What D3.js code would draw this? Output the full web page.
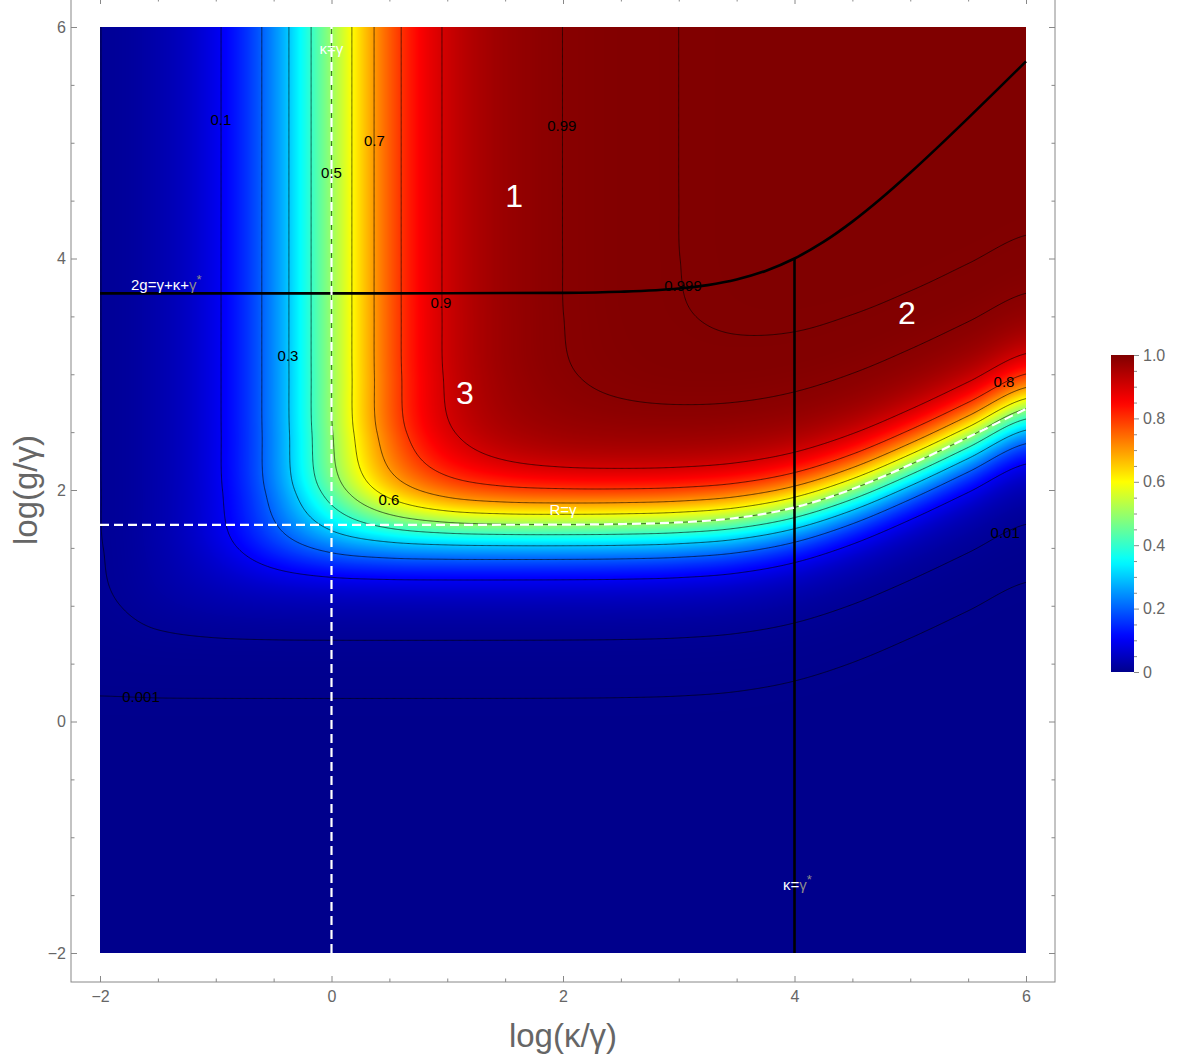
<!DOCTYPE html>
<html>
<head>
<meta charset="utf-8">
<script src="https://cdn.jsdelivr.net/npm/d3@7"></script>
<style>
  body { margin: 0; background: #fff; }
  svg { display: block; font-family: "Liberation Sans", Arial, sans-serif; }
</style>
</head>
<body>
<script>
// grid nodes, log(κ/γ) across and log(g/γ) up
var kappaLog = [-2, -1.5, -1, -0.5, 0, 0.5, 1, 1.5, 2, 2.5, 3, 3.5, 4, 4.5, 5, 5.5, 6];
var gLog = [-2, -1.5, -1, -0.5, 0, 0.5, 1, 1.5, 2, 2.5, 3, 3.5, 4, 4.5, 5, 5.5, 6];

// efficiency, one row per gLog value (bottom to top)
var efficiency = [
  [4.0e-8, 4.0e-8, 4.0e-8, 4.0e-8, 4.0e-8, 4.0e-8, 4.0e-8, 4.0e-8, 3.96e-8, 3.88e-8, 3.64e-8, 3.04e-8, 2.0e-8, 9.6e-9, 3.64e-9, 1.23e-9, 3.96e-10],
  [4.0e-7, 4.0e-7, 4.0e-7, 4.0e-7, 4.0e-7, 4.0e-7, 4.0e-7, 4.0e-7, 3.96e-7, 3.88e-7, 3.64e-7, 3.04e-7, 2.0e-7, 9.6e-8, 3.64e-8, 1.23e-8, 3.96e-9],
  [4.0e-6, 4.0e-6, 4.0e-6, 4.0e-6, 4.0e-6, 4.0e-6, 4.0e-6, 4.0e-6, 3.96e-6, 3.88e-6, 3.64e-6, 3.04e-6, 2.0e-6, 9.6e-7, 3.64e-7, 1.23e-7, 3.96e-8],
  [3.98e-5, 3.99e-5, 4.0e-5, 4.0e-5, 4.0e-5, 4.0e-5, 4.0e-5, 3.99e-5, 3.96e-5, 3.88e-5, 3.64e-5, 3.04e-5, 2.0e-5, 9.61e-6, 3.64e-6, 1.23e-6, 3.96e-7],
  [3.845e-4, 3.949e-4, 3.982e-4, 3.993e-4, 3.996e-4, 3.997e-4, 3.994e-4, 3.986e-4, 3.959e-4, 3.876e-4, 3.635e-4, 3.038e-4, 2.0e-4, 9.61e-5, 3.636e-5, 1.226e-5, 3.96e-6],
  [2.849e-3, 3.538e-3, 3.831e-3, 3.935e-3, 3.968e-3, 3.978e-3, 3.978e-3, 3.971e-3, 3.945e-3, 3.862e-3, 3.623e-3, 3.03e-3, 1.996e-3, 9.6e-4, 3.635e-4, 1.226e-4, 3.96e-5],
  [7.937e-3, 1.7355e-2, 2.778e-2, 3.429e-2, 3.703e-2, 3.799e-2, 3.828e-2, 3.83e-2, 3.808e-2, 3.732e-2, 3.509e-2, 2.949e-2, 1.961e-2, 9.518e-3, 3.623e-3, 1.2246e-3, 3.959e-4],
  [9.662e-3, 2.847e-2, 7.407e-2, 0.1501, 0.2222, 0.262, 0.2776, 0.2825, 0.2829, 0.2792, 0.2666, 0.2331, 0.1667, 0.08767, 0.03509, 0.012113, 3.945e-3],
  [9.877e-3, 3.042e-2, 0.08889, 0.2266, 0.4444, 0.6384, 0.7406, 0.7798, 0.7921, 0.793, 0.7837, 0.7522, 0.6666, 0.4901, 0.2667, 0.10922, 0.0381],
  [9.898e-3, 3.063e-2, 0.0907, 0.2388, 0.4938, 0.7456, 0.8889, 0.9463, 0.96595, 0.97186, 0.97229, 0.96785, 0.95229, 0.90572, 0.78431, 0.55079, 0.28369],
  [9.901e-3, 3.0651e-2, 0.090889, 0.24011, 0.49938, 0.75831, 0.90703, 0.967, 0.98763, 0.99429, 0.99626, 0.99641, 0.99493, 0.98967, 0.97323, 0.92459, 0.7984],
  [9.901e-3, 3.0652e-2, 0.090907, 0.24024, 0.49994, 0.7596, 0.90888, 0.96911, 0.989853, 0.99659, 0.998727, 0.999355, 0.9994, 0.998929, 0.997247, 0.991907, 0.975372],
  [9.901e-3, 3.0653e-2, 0.090909, 0.24025, 0.49999, 0.75974, 0.90907, 0.96932, 0.990074, 0.99682, 0.998974, 0.999651, 0.99985, 0.999864, 0.999715, 0.999182, 0.997481],
  [9.901e-3, 3.0653e-2, 0.090909, 0.24025, 0.499999, 0.75975, 0.90909, 0.96934, 0.990097, 0.99685, 0.998998, 0.99968, 0.9999, 0.99996, 0.99996, 0.999915, 0.999748],
  [9.901e-3, 3.0653e-2, 0.090909, 0.24025, 0.5, 0.75975, 0.90909, 0.96934, 0.990099, 0.99685, 0.999001, 0.99968, 0.9999, 0.99997, 0.99999, 0.99999, 0.999974],
  [9.901e-3, 3.0653e-2, 0.090909, 0.24025, 0.5, 0.75975, 0.90909, 0.96934, 0.990099, 0.99685, 0.999001, 0.99968, 0.9999, 0.99997, 0.99999, 1, 1],
  [9.901e-3, 3.0653e-2, 0.090909, 0.24025, 0.5, 0.75975, 0.90909, 0.96934, 0.990099, 0.99685, 0.999001, 0.99968, 0.9999, 0.99997, 0.99999, 1, 1]
];

var contourLevels = [0.001, 0.01, 0.1, 0.2, 0.3, 0.4, 0.5, 0.6, 0.7, 0.8, 0.9, 0.99, 0.999];

// 2g = γ+κ+γ* boundary
var strongX = [-2, -1, 0, 1, 2, 2.5, 3, 3.25, 3.5, 3.75, 4, 4.25, 4.5, 4.75, 5, 5.25, 5.5, 5.75, 6];
var strongY = [3.699, 3.699, 3.699, 3.6995, 3.7033, 3.7125, 3.7404, 3.7701, 3.8183, 3.8928, 4.0, 4.1428, 4.3183, 4.5201, 4.7404, 4.9727, 5.2125, 5.4566, 5.7033];
// R = γ boundary
var rateX = [-2, 0, 1, 2, 2.5, 3, 3.25, 3.5, 3.75, 4, 4.25, 4.5, 4.75, 5, 5.25, 5.5, 5.75, 6];
var rateY = [1.699, 1.699, 1.6992, 1.7011, 1.7057, 1.7197, 1.7345, 1.7586, 1.7959, 1.8495, 1.9209, 2.0086, 2.1095, 2.2197, 2.3359, 2.4557, 2.5778, 2.7011];
// κ = γ (dashed) and κ = γ* (solid) verticals
var kappaGammaX = 0;
var kappaStarX = 4;
var kappaStarTop = 4.0;

var axisMajor = [-2, 0, 2, 4, 6];
var axisMinor = d3.range(-2, 6.01, 0.5);
var barMajor = [0, 0.2, 0.4, 0.6, 0.8, 1.0];
var barMajorText = ['0', '0.2', '0.4', '0.6', '0.8', '1.0'];
var barMinor = d3.range(0, 1.001, 0.05);

var contourTags = [
  { t: '0.1', x: -0.955, y: 5.205 }, { t: '0.5', x: 0.0, y: 4.74 }, { t: '0.7', x: 0.37, y: 5.02 },
  { t: '0.99', x: 1.99, y: 5.145 }, { t: '0.3', x: -0.376, y: 3.166 }, { t: '0.9', x: 0.946, y: 3.624 },
  { t: '0.999', x: 3.037, y: 3.771 }, { t: '0.6', x: 0.497, y: 1.922 }, { t: '0.8', x: 5.81, y: 2.94 },
  { t: '0.01', x: 5.82, y: 1.637 }, { t: '0.001', x: -1.646, y: 0.212 }
];
var regionTags = [{ t: '1', x: 1.577, y: 4.54 }, { t: '2', x: 4.97, y: 3.53 }, { t: '3', x: 1.153, y: 2.84 }];

var W = 1184, H = 1064;
var x = d3.scaleLinear().domain([-2, 6]).range([100, 1026]);
var y = d3.scaleLinear().domain([-2, 6]).range([953, 27]);
var frame = { l: 71, r: 1055, t: -2, b: 982 };

var color = d3.scaleLinear()
  .domain([0, 0.11, 0.35, 0.6, 0.85, 1])
  .range(['rgb(0,0,140)', 'rgb(0,0,255)', 'rgb(0,255,255)', 'rgb(255,255,0)', 'rgb(255,0,0)', 'rgb(128,0,0)'])
  .interpolate(d3.interpolateRgb);
var lut = d3.range(1024).map(function(i) {
  var c = d3.rgb(color(i / 1023));
  return [c.r, c.g, c.b];
});

function logit(v) {
  v = Math.min(Math.max(v, 1e-12), 1 - 1e-7);
  return Math.log10(v / (1 - v));
}
var L = efficiency.map(function(row) { return row.map(logit); });
var nx = kappaLog.length, ny = gLog.length;
var ix = d3.scaleLinear().domain(d3.extent(kappaLog)).range([0, nx - 1]).clamp(true);
var iy = d3.scaleLinear().domain(d3.extent(gLog)).range([0, ny - 1]).clamp(true);

// smooth (Catmull-Rom) resampling of the grid in logit space
function cr(p0, p1, p2, p3, t) {
  return p1 + 0.5 * t * (p2 - p0 + t * (2 * p0 - 5 * p1 + 4 * p2 - p3 + t * (3 * (p1 - p2) + p3 - p0)));
}
function at(j, i) {
  i = Math.max(0, Math.min(nx - 1, i));
  j = Math.max(0, Math.min(ny - 1, j));
  return L[j][i];
}
function logitAt(xv, yv) {
  var fx = ix(xv), fy = iy(yv);
  var i0 = Math.min(Math.floor(fx), nx - 2), j0 = Math.min(Math.floor(fy), ny - 2);
  var tx = fx - i0, ty = fy - j0;
  var rows = [];
  for (var m = -1; m <= 2; m++) {
    rows.push(cr(at(j0 + m, i0 - 1), at(j0 + m, i0), at(j0 + m, i0 + 1), at(j0 + m, i0 + 2), tx));
  }
  return cr(rows[0], rows[1], rows[2], rows[3], ty);
}

var svg = d3.select('body').append('svg').attr('width', W).attr('height', H);

// density image
var pw = 926, ph = 926;
var cv = document.createElement('canvas');
cv.width = pw; cv.height = ph;
var ctx = cv.getContext('2d');
var img = ctx.createImageData(pw, ph);
for (var j = 0; j < ph; j++) {
  var yv = y.invert(27 + j + 0.5);
  for (var i = 0; i < pw; i++) {
    var xv = x.invert(100 + i + 0.5);
    var e = 1 / (1 + Math.pow(10, -logitAt(xv, yv)));
    var c = lut[Math.round(e * 1023)];
    var k = (j * pw + i) * 4;
    img.data[k] = c[0]; img.data[k + 1] = c[1]; img.data[k + 2] = c[2]; img.data[k + 3] = 255;
  }
}
ctx.putImageData(img, 0, 0);
svg.append('image').attr('x', 100).attr('y', 27).attr('width', pw).attr('height', ph)
  .attr('preserveAspectRatio', 'none').attr('href', cv.toDataURL());

svg.append('clipPath').attr('id', 'plotclip').append('rect')
  .attr('x', 100).attr('y', 27).attr('width', pw).attr('height', ph);

// contour lines
var step = 0.01, x0 = -2.05, y0 = 6.05;
var gw = Math.round(8.1 / step) + 1, gh = gw;
var values = new Float64Array(gw * gh);
for (var gj = 0; gj < gh; gj++) {
  for (var gi = 0; gi < gw; gi++) {
    values[gj * gw + gi] = logitAt(x0 + gi * step, y0 - gj * step);
  }
}
var contours = d3.contours().size([gw, gh]).thresholds(contourLevels.map(logit))(values);
var proj = d3.geoTransform({
  point: function(px, py) {
    this.stream.point(x(x0 + (px - 0.5) * step), y(y0 - (py - 0.5) * step));
  }
});
svg.append('g').attr('clip-path', 'url(#plotclip)')
  .selectAll('path').data(contours).join('path')
  .attr('d', d3.geoPath(proj))
  .attr('fill', 'none').attr('stroke', 'rgba(0,0,0,0.6)').attr('stroke-width', 1);

// boundary lines
var line = d3.line().x(function(d) { return x(d[0]); }).y(function(d) { return y(d[1]); }).curve(d3.curveMonotoneX);
svg.append('path').datum(d3.zip(strongX, strongY)).attr('d', line)
  .attr('fill', 'none').attr('stroke', '#000').attr('stroke-width', 2.6);
svg.append('line').attr('x1', x(kappaStarX)).attr('x2', x(kappaStarX)).attr('y1', y(-2)).attr('y2', y(kappaStarTop))
  .attr('stroke', '#000').attr('stroke-width', 2.6);
svg.append('path').datum(d3.zip(rateX, rateY)).attr('d', line)
  .attr('fill', 'none').attr('stroke', '#fff').attr('stroke-width', 2.2).attr('stroke-dasharray', '9,5');
svg.append('line').attr('x1', x(kappaGammaX)).attr('x2', x(kappaGammaX)).attr('y1', y(-2)).attr('y2', y(6))
  .attr('stroke', '#fff').attr('stroke-width', 2.2).attr('stroke-dasharray', '9,5');

// contour labels
svg.append('g').selectAll('text').data(contourTags).join('text')
  .attr('x', function(d) { return x(d.x); }).attr('y', function(d) { return y(d.y); })
  .attr('text-anchor', 'middle').attr('dominant-baseline', 'central')
  .attr('font-size', 15).attr('fill', '#000').text(function(d) { return d.t; });

// region numbers
svg.append('g').selectAll('text').data(regionTags).join('text')
  .attr('x', function(d) { return x(d.x); }).attr('y', function(d) { return y(d.y); })
  .attr('text-anchor', 'middle').attr('dominant-baseline', 'central')
  .attr('font-size', 32).attr('fill', '#fff').text(function(d) { return d.t; });

// white annotations
var gray = '#8c8c8c';
var t1 = svg.append('text').attr('x', 131).attr('y', 290).attr('font-size', 15).attr('fill', '#fff');
t1.append('tspan').text('2g=γ+κ+');
t1.append('tspan').attr('fill', gray).text('γ');
t1.append('tspan').attr('fill', gray).attr('font-size', 13).attr('dy', -6).text('*');

var t2 = svg.append('text').attr('x', 783).attr('y', 890).attr('font-size', 15).attr('fill', '#fff');
t2.append('tspan').text('κ=');
t2.append('tspan').attr('fill', gray).text('γ');
t2.append('tspan').attr('fill', gray).attr('font-size', 13).attr('dy', -6).text('*');

svg.append('text').attr('x', x(0)).attr('y', 54).attr('text-anchor', 'middle')
  .attr('font-size', 15).attr('fill', '#fff').text('κ=γ');
svg.append('text').attr('x', x(2)).attr('y', 515).attr('text-anchor', 'middle')
  .attr('font-size', 15).attr('fill', '#fff').text('R=γ');

// frame and ticks
svg.append('rect').attr('x', frame.l).attr('y', frame.t).attr('width', frame.r - frame.l).attr('height', frame.b - frame.t)
  .attr('fill', 'none').attr('stroke', '#888').attr('stroke-width', 1);

function styleAxis(g) {
  g.select('.domain').remove();
  g.selectAll('line').attr('stroke', '#888');
  g.selectAll('text').attr('fill', '#666').attr('font-size', 16).attr('font-family', '"Liberation Sans", Arial, sans-serif');
}
var fmt = function(d) { return d < 0 ? '\u2212' + Math.abs(d) : String(d); };
var minorOnly = axisMinor.filter(function(v) { return axisMajor.indexOf(v) < 0; });

svg.append('g').attr('transform', 'translate(0,' + frame.b + ')')
  .call(d3.axisBottom(x).tickValues(axisMajor).tickSize(-6).tickPadding(9).tickFormat(fmt)).call(styleAxis);
svg.append('g').attr('transform', 'translate(0,' + frame.b + ')')
  .call(d3.axisBottom(x).tickValues(minorOnly).tickSize(-3.5).tickFormat('')).call(styleAxis);
svg.append('g').attr('transform', 'translate(0,' + frame.t + ')')
  .call(d3.axisTop(x).tickValues(axisMajor).tickSize(-6).tickFormat('')).call(styleAxis);
svg.append('g').attr('transform', 'translate(0,' + frame.t + ')')
  .call(d3.axisTop(x).tickValues(minorOnly).tickSize(-3.5).tickFormat('')).call(styleAxis);
svg.append('g').attr('transform', 'translate(' + frame.l + ',0)')
  .call(d3.axisLeft(y).tickValues(axisMajor).tickSize(-6).tickPadding(5).tickFormat(fmt)).call(styleAxis);
svg.append('g').attr('transform', 'translate(' + frame.l + ',0)')
  .call(d3.axisLeft(y).tickValues(minorOnly).tickSize(-3.5).tickFormat('')).call(styleAxis);
svg.append('g').attr('transform', 'translate(' + frame.r + ',0)')
  .call(d3.axisRight(y).tickValues(axisMajor).tickSize(-6).tickFormat('')).call(styleAxis);
svg.append('g').attr('transform', 'translate(' + frame.r + ',0)')
  .call(d3.axisRight(y).tickValues(minorOnly).tickSize(-3.5).tickFormat('')).call(styleAxis);

// axis titles
svg.append('text').attr('x', x(2)).attr('y', 1047).attr('text-anchor', 'middle')
  .attr('font-size', 33).attr('fill', '#666').text('log(κ/γ)');
svg.append('text').attr('transform', 'translate(37,' + y(2) + ') rotate(-90)').attr('text-anchor', 'middle')
  .attr('font-size', 33).attr('fill', '#666').text('log(g/γ)');

// colour bar
var cb = d3.scaleLinear().domain([0, 1]).range([672, 355]);
var grad = svg.append('defs').append('linearGradient').attr('id', 'cbgrad')
  .attr('x1', 0).attr('y1', 1).attr('x2', 0).attr('y2', 0);
grad.selectAll('stop').data(d3.range(0, 1.0001, 0.02)).join('stop')
  .attr('offset', function(d) { return d; }).attr('stop-color', function(d) { return color(d); });
svg.append('rect').attr('x', 1111).attr('y', 355).attr('width', 23).attr('height', 317).attr('fill', 'url(#cbgrad)');
svg.append('g').attr('transform', 'translate(1134,0)')
  .call(d3.axisRight(cb).tickValues(barMajor).tickSize(5).tickPadding(4)
    .tickFormat(function(d, i) { return barMajorText[i]; })).call(styleAxis);
svg.append('g').attr('transform', 'translate(1134,0)')
  .call(d3.axisRight(cb).tickValues(barMinor.filter(function(v, i) { return i % 4 !== 0; })).tickSize(3).tickFormat(''))
  .call(styleAxis);
</script>
</body>
</html>
